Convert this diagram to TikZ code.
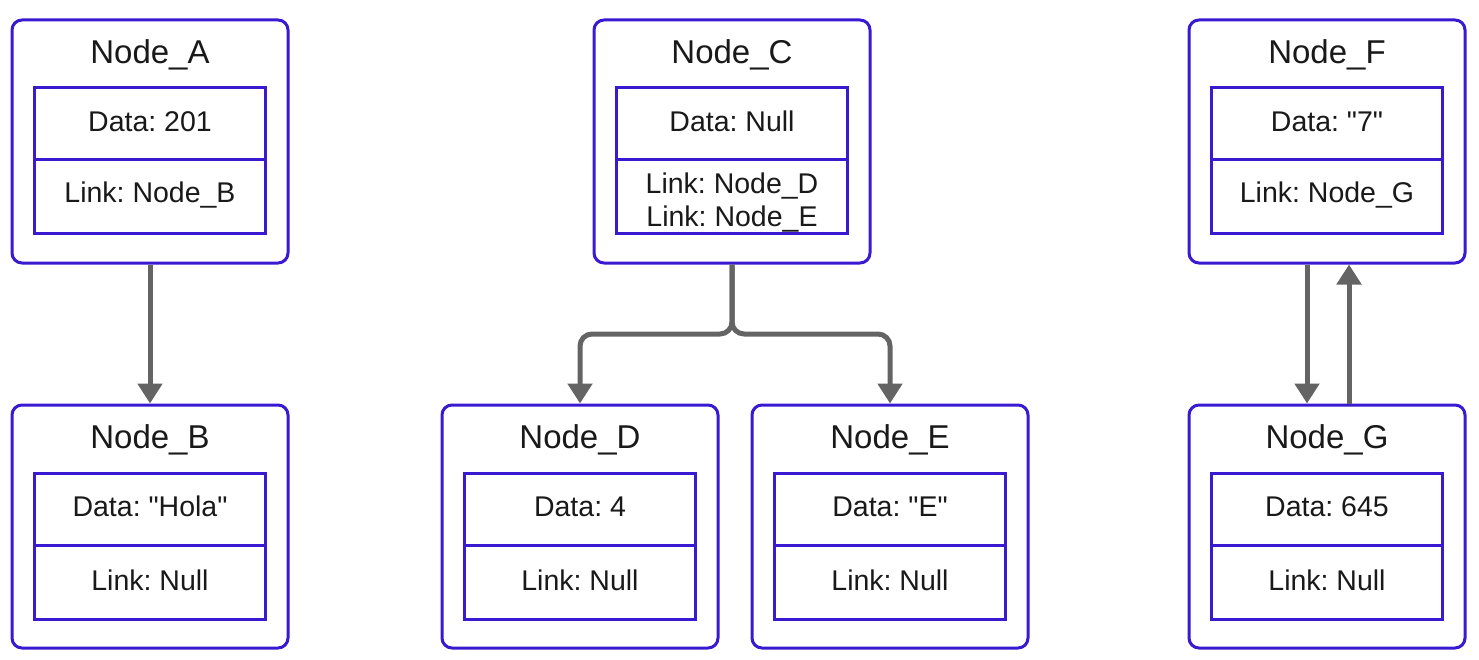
\documentclass[tikz,border=0pt]{standalone}
\usepackage{fontspec}
\setmainfont{Liberation Sans}
\newfontfamily\plainsans{Liberation Sans}
\usetikzlibrary{arrows.meta}
\definecolor{boxblue}{RGB}{58,26,208}
\definecolor{conngray}{RGB}{100,100,100}
\tikzset{
  outerbox/.style={draw=boxblue, line width=3, rounded corners=10, minimum width=276, minimum height=243, inner sep=0},
  innerdata/.style={draw=boxblue, line width=3, minimum width=231, minimum height=72, inner sep=0},
  innerlink/.style={draw=boxblue, line width=3, minimum width=231, minimum height=74, inner sep=0},
  bodytext/.style={inner sep=0, font=\plainsans\fontsize{28.5}{33}\selectfont\frenchspacing, text=black!90, align=center},
  titletext/.style={inner sep=0, font=\plainsans\fontsize{33}{36}\selectfont, text=black!90},
  conn/.style={draw=conngray, line width=5, -{Triangle[width=24,length=20]}},
}
\newcommand{\LLbox}[7]{%
  \node[outerbox] (#1) at (#2,#3+121.5) {};
  \node[titletext] (#1-t) at (#2,#3+35) {#4};
  \node[innerdata] (#1-d) at (#2,#3+104) {};
  \node[innerlink] (#1-l) at (#2,#3+177) {};
  \node[bodytext] (#1-dt) at (#2,#3+101.5) {#5};
  \node[bodytext] (#1-lt) at (#2,#3+#7) {#6};
}
\begin{document}
\begin{tikzpicture}[x=1pt,y=-1pt]
\fill[white] (0,0) rectangle (1479,660);
\useasboundingbox (0,0) rectangle (1479,660);
\LLbox{A}{150}{20}{Node\_A}{Data: 201}{Link: Node\_B}{175.5}
\LLbox{B}{150}{405}{Node\_B}{Data: "Hola"}{Link: Null}{175.5}
\LLbox{C}{732}{20}{Node\_C}{Data: Null}{Link: Node\_D\\Link: Node\_E}{183}
\LLbox{D}{580}{405}{Node\_D}{Data: 4}{Link: Null}{175.5}
\LLbox{E}{890}{405}{Node\_E}{Data: "E"}{Link: Null}{175.5}
\LLbox{F}{1327}{20}{Node\_F}{Data: "7"}{Link: Node\_G}{175.5}
\LLbox{G}{1327}{405}{Node\_G}{Data: 645}{Link: Null}{175.5}
\draw[conn] (A.south) -- (B.north);
\coordinate (J) at (732,334);
\draw[conn, rounded corners=12] (C.south) -- (J) -| (D.north);
\draw[conn, rounded corners=12] (C.south) -- (J) -| (E.north);
\draw[conn] ([xshift=-20]F.south) -- ([xshift=-20]G.north);
\draw[conn] ([xshift=22]G.north) -- ([xshift=22]F.south);
\end{tikzpicture}
\end{document}
